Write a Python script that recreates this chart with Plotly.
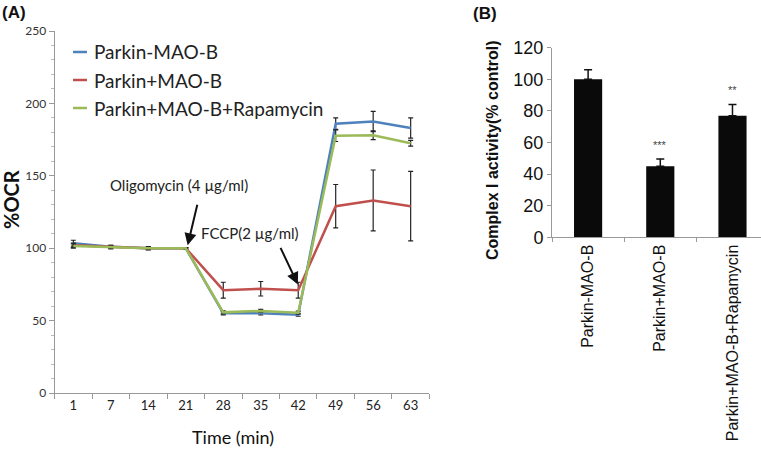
import plotly.graph_objects as go

# panel A: OCR time course
times = ["1", "7", "14", "21", "28", "35", "42", "49", "56", "63"]
series_names = ["Parkin-MAO-B", "Parkin+MAO-B", "Parkin+MAO-B+Rapamycin"]
ocr_parkin_maob = [103.5, 101, 100, 100, 55, 55, 54, 186, 187.5, 183]
ocr_parkin_plus_maob = [102, 101, 100, 100, 71, 72, 71, 129, 133, 129]
ocr_rapamycin = [101.5, 100.5, 100, 100, 55.7, 56.7, 55.5, 177.7, 178, 172.5]
err_parkin_maob = [2, 1, 1, 0.5, 1, 1, 1, 4, 7, 7]
err_parkin_plus_maob = [1.5, 1, 1, 0.5, 5.5, 5, 5.5, 15, 21, 24]
err_rapamycin = [1.5, 1, 1, 0.5, 1, 1, 1, 4, 3, 2]
line_colors = ["#4F81BD", "#C0504D", "#9BBB59"]

# panel B: complex I activity
groups = ["Parkin-MAO-B", "Parkin+MAO-B", "Parkin+MAO-B+Rapamycin"]
activity = [100, 45, 77]
activity_err = [6, 4.5, 7]
stars = ["", "***", "**"]

W, H = 761, 450

fig = go.Figure()

ocr = [ocr_parkin_maob, ocr_parkin_plus_maob, ocr_rapamycin]
errs = [err_parkin_maob, err_parkin_plus_maob, err_rapamycin]
for name, vals, err, col in zip(series_names, ocr, errs, line_colors):
    fig.add_trace(go.Scatter(
        x=times, y=vals, name=name, mode="lines",
        line=dict(color=col, width=2.5),
        error_y=dict(type="data", array=err, color="#222", thickness=1.2, width=2.5),
        showlegend=False, xaxis="x", yaxis="y"))

fig.add_trace(go.Bar(
    x=groups, y=activity, width=0.39, marker=dict(color="#0a0a0a", line_width=0),
    error_y=dict(type="data", array=activity_err, arrayminus=[0] * len(activity),
                 symmetric=False, color="#111", thickness=1.5, width=4),
    showlegend=False, xaxis="x2", yaxis="y2"))

annotations = []
shapes = []

def px(x, y):
    return x / W, 1 - y / H

# manual legend with short line samples
for i, (name, col) in enumerate(zip(series_names, line_colors)):
    ly = 52 + 28 * i
    x0, y0 = px(73, ly)
    x1, _ = px(87, ly)
    shapes.append(dict(type="line", xref="paper", yref="paper",
                       x0=x0, x1=x1, y0=y0, y1=y0, line=dict(color=col, width=2.5)))
    tx, ty = px(92, ly)
    annotations.append(dict(text=name, xref="paper", yref="paper", x=tx, y=ty,
                            xanchor="left", yanchor="middle", showarrow=False,
                            font=dict(family="Lato", size=19, color="#222")))

# drug injection arrows
tx, ty = px(179, 185)
annotations.append(dict(text="Oligomycin (4 µg/ml)", xref="paper", yref="paper",
                        x=tx, y=ty, xanchor="center", yanchor="middle", showarrow=False,
                        font=dict(family="Lato", size=15, color="#222")))
annotations.append(dict(text="", x=3.05, y=102, xref="x", yref="y", ax=10, ay=-42,
                        showarrow=True, arrowhead=2, arrowsize=1.2, arrowwidth=2, arrowcolor="#111"))
tx, ty = px(250, 233)
annotations.append(dict(text="FCCP(2 µg/ml)", xref="paper", yref="paper",
                        x=tx, y=ty, xanchor="center", yanchor="middle", showarrow=False,
                        font=dict(family="Lato", size=15, color="#222")))
annotations.append(dict(text="", x=5.99, y=75, xref="x", yref="y", ax=-18, ay=-38,
                        showarrow=True, arrowhead=2, arrowsize=1.2, arrowwidth=2, arrowcolor="#111"))

# significance stars
for g, v, e, s in zip(groups, activity, activity_err, stars):
    if s:
        annotations.append(dict(text=s, x=g, y=v + e + 4, xref="x2", yref="y2",
                                showarrow=False, yanchor="bottom",
                                font=dict(family="Liberation Sans", size=11, color="#444")))

# titles
def label(text, x, y, size, family, angle=0, anchor="center"):
    lx, ly = px(x, y)
    return dict(text=text, xref="paper", yref="paper", x=lx, y=ly, textangle=angle,
                xanchor=anchor, yanchor="middle", showarrow=False,
                font=dict(family=family, size=size, color="#111"))

annotations += [
    label("<b>(A)</b>", 0, 13, 17, "Liberation Sans", anchor="left"),
    label("<b>(B)</b>", 471, 14, 17, "Liberation Sans", anchor="left"),
    label("<b>%OCR</b>", 11, 200, 20, "Lato", angle=-90),
    label("Time (min)", 233, 437, 18, "Lato"),
    label("<b>Complex I activity(% control)</b>", 493, 150, 16, "Liberation Sans", angle=-90),
]

fig.update_layout(
    width=W, height=H,
    margin=dict(l=0, r=0, t=0, b=0, autoexpand=False),
    paper_bgcolor="white", plot_bgcolor="white",
    xaxis=dict(domain=[54.6 / W, 429.4 / W], type="category", range=[-0.5, 9.5],
               tickson="boundaries", ticks="outside", ticklen=5, tickcolor="#999",
               showline=True, linecolor="#999", linewidth=1, showgrid=False, automargin=False,
               tickfont=dict(family="Lato", size=13, color="#222"), anchor="y"),
    yaxis=dict(domain=[1 - 393 / H, 1 - 31 / H], range=[0, 250], dtick=50,
               ticks="outside", ticklen=5, tickcolor="#999",
               minor=dict(dtick=10, ticks="outside", ticklen=3, tickcolor="#bbb"),
               showline=True, linecolor="#999", linewidth=1, showgrid=False, zeroline=False,
               automargin=False,
               tickfont=dict(family="Lato", size=12, color="#333"), anchor="x"),
    xaxis2=dict(domain=[552 / W, 1], type="category", range=[-0.5, 2.395],
                tickson="boundaries", ticks="outside", ticklen=4, tickcolor="#999",
                showline=True, linecolor="#999", linewidth=1, showgrid=False, tickangle=-90,
                automargin=False,
                tickfont=dict(family="Liberation Sans", size=16, color="#111"), anchor="y2"),
    yaxis2=dict(domain=[1 - 237.3 / H, 1 - 47.7 / H], range=[0, 120], dtick=20,
                ticks="outside", ticklen=4, tickcolor="#999",
                showline=True, linecolor="#999", linewidth=1, showgrid=False, zeroline=False,
                automargin=False,
                tickfont=dict(family="Liberation Sans", size=18, color="#111"), anchor="x2"),
    annotations=annotations,
    shapes=shapes,
)

fig.write_html("out.html", config={"displayModeBar": False},
               post_script="document.body.style.margin='0';")
